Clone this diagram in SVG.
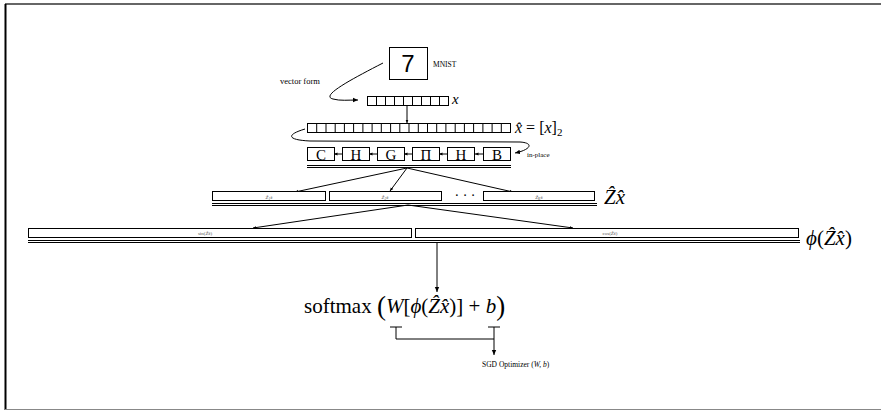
<svg xmlns="http://www.w3.org/2000/svg" width="881" height="411" viewBox="0 0 881 411">
<style>
text{font-family:'Liberation Serif','DejaVu Serif',serif;fill:#000}
.i{font-style:italic}
.box{fill:#fff;stroke:#000;stroke-width:1}
.ln{fill:none;stroke:#000;stroke-width:1}
.tiny{font-size:5px;fill:#555}
</style>
<defs>
<marker id="ah" markerWidth="6" markerHeight="6" refX="5" refY="3" orient="auto" markerUnits="userSpaceOnUse">
<path d="M0,0.8 L5,3 L0,5.2 z" fill="#000"/>
</marker>
<marker id="as" markerWidth="4" markerHeight="4" refX="3.5" refY="2" orient="auto" markerUnits="userSpaceOnUse">
<path d="M0,0.5 L3.5,2 L0,3.5 z" fill="#000"/>
</marker>
</defs>
<rect width="881" height="411" fill="#fff"/>
<g id="frame">
<line x1="5" y1="4" x2="881" y2="4" stroke="#333" stroke-width="1.5"/>
<line x1="5.5" y1="4" x2="5.5" y2="410" stroke="#000" stroke-width="2"/>
<line x1="5" y1="409.5" x2="881" y2="409.5" stroke="#888" stroke-width="1.2"/>
</g>
<g id="connectors">
<path class="ln" d="M383,63 C350,80 320,96 333,99 C340,101 348,100 358,100" marker-end="url(#ah)"/>
<line class="ln" x1="407" y1="105" x2="407" y2="123" marker-end="url(#as)"/>
<path class="ln" d="M305,129 C285,135 288,140 310,141 L520,142 C535,143 530,150 515,153" marker-end="url(#ah)"/>
<line class="ln" x1="407" y1="168" x2="295" y2="192" marker-end="url(#as)"/>
<line class="ln" x1="407" y1="168" x2="390" y2="191" marker-end="url(#as)"/>
<line class="ln" x1="407" y1="168" x2="513" y2="192" marker-end="url(#as)"/>
<line class="ln" x1="408" y1="205" x2="253" y2="228" marker-end="url(#as)"/>
<line class="ln" x1="408" y1="205" x2="573" y2="228" marker-end="url(#as)"/>
<line class="ln" x1="437" y1="242" x2="437" y2="292" marker-end="url(#ah)"/>
<path class="ln" d="M390,327 H402 M396,327 V339 H494 M488,327 H500 M494,327 V339"/>
<line class="ln" x1="494" y1="339" x2="494" y2="355" marker-end="url(#ah)"/>
<line class="ln" x1="342" y1="154" x2="334" y2="154" marker-end="url(#as)"/>
<line class="ln" x1="377" y1="154" x2="369" y2="154" marker-end="url(#as)"/>
<line class="ln" x1="412" y1="154" x2="404" y2="154" marker-end="url(#as)"/>
<line class="ln" x1="447" y1="154" x2="439" y2="154" marker-end="url(#as)"/>
<line class="ln" x1="483" y1="154" x2="475" y2="154" marker-end="url(#as)"/>
</g>
<g id="mnist">
<rect class="box" x="389.5" y="47.5" width="38" height="32"/>
<text x="408" y="72" style="font-family:'Liberation Sans',Arial,sans-serif" font-size="24" text-anchor="middle">7</text>
<text x="433" y="67" font-size="7.5">MNIST</text>
</g>
<text id="vecform" x="280" y="84" font-size="8.5">vector form</text>
<g id="x">
<rect class="box" x="367.5" y="96.5" width="81" height="9"/>
<path class="ln" d="M376.5,96.5V105.5M385.5,96.5V105.5M394.5,96.5V105.5M403.5,96.5V105.5M412.5,96.5V105.5M421.5,96.5V105.5M430.5,96.5V105.5M439.5,96.5V105.5"/>
<text class="i" x="452" y="104" font-size="15">x</text>
</g>
<g id="xhat">
<rect class="box" x="307.5" y="123.5" width="203" height="9"/>
<path class="ln" d="M316.7,123.5V132.5M326,123.5V132.5M335.2,123.5V132.5M344.4,123.5V132.5M353.6,123.5V132.5M362.9,123.5V132.5M372.1,123.5V132.5M381.3,123.5V132.5M390.6,123.5V132.5M399.8,123.5V132.5M409,123.5V132.5M418.3,123.5V132.5M427.5,123.5V132.5M436.7,123.5V132.5M445.9,123.5V132.5M455.2,123.5V132.5M464.4,123.5V132.5M473.6,123.5V132.5M482.9,123.5V132.5M492.1,123.5V132.5M501.3,123.5V132.5"/>
<text x="515" y="133" font-size="16"><tspan class="i">x̂</tspan> = [<tspan class="i">x</tspan>]<tspan font-size="11" dy="3">2</tspan></text>
</g>
<g id="transform">
<rect class="box" x="307.5" y="147.5" width="27" height="13"/>
<rect class="box" x="342.5" y="147.5" width="27" height="13"/>
<rect class="box" x="377.5" y="147.5" width="27" height="13"/>
<rect class="box" x="412.5" y="147.5" width="27" height="13"/>
<rect class="box" x="447.5" y="147.5" width="27" height="13"/>
<rect class="box" x="483.5" y="147.5" width="27" height="13"/>
<g font-size="15" text-anchor="middle">
<text x="321" y="159.5">C</text>
<text x="356" y="159.5">H</text>
<text x="391" y="159.5">G</text>
<text x="426" y="159.5">Π</text>
<text x="461" y="159.5">H</text>
<text x="497" y="159.5">B</text>
</g>
<path class="ln" d="M307,165.5H511M307,167.5H511" stroke-width="0.8"/>
<text x="527" y="157" font-size="7">in-place</text>
</g>
<g id="zx">
<rect class="box" x="212.5" y="191.5" width="113" height="9"/>
<rect class="box" x="329.5" y="191.5" width="112" height="9"/>
<rect class="box" x="483.5" y="191.5" width="111" height="9"/>
<text class="tiny i" x="269" y="198.5" text-anchor="middle">Ẑ<tspan font-size="3.5" dy="1">1</tspan><tspan dy="-1">x̂</tspan></text>
<text class="tiny i" x="385" y="198.5" text-anchor="middle">Ẑ<tspan font-size="3.5" dy="1">2</tspan><tspan dy="-1">x̂</tspan></text>
<text class="tiny i" x="539" y="198.5" text-anchor="middle">Ẑ<tspan font-size="3.5" dy="1">K</tspan><tspan dy="-1">x̂</tspan></text>
<text x="465" y="200" font-size="14" text-anchor="middle">· · ·</text>
<path class="ln" d="M212,203.5H597M212,205.5H597" stroke-width="0.8"/>
<text class="i" x="604" y="204" font-size="21">Ẑx̂</text>
</g>
<g id="phi">
<rect class="box" x="28.5" y="228.5" width="383" height="9"/>
<rect class="box" x="415.5" y="228.5" width="383" height="9"/>
<text class="tiny" x="205" y="234.5" text-anchor="middle">sin(<tspan class="i">Ẑx̂</tspan>)</text>
<text class="tiny" x="610" y="234.5" text-anchor="middle">cos(<tspan class="i">Ẑx̂</tspan>)</text>
<path class="ln" d="M28,240.5H800M28,242.5H800" stroke-width="0.8"/>
<text x="806" y="245" font-size="21"><tspan class="i">ϕ</tspan>(<tspan class="i">Ẑx̂</tspan>)</text>
</g>
<g id="softmax">
<text x="304" y="313" font-size="21">softmax <tspan font-size="27" dy="2">(</tspan><tspan class="i" dy="-2">W</tspan>[<tspan class="i">ϕ</tspan>(<tspan class="i">Ẑx̂</tspan>)] + <tspan class="i">b</tspan><tspan font-size="27" dy="2">)</tspan></text>
</g>
<text id="sgd" x="482" y="367" font-size="7.5">SGD Optimizer (<tspan class="i">W, b</tspan>)</text>
</svg>
